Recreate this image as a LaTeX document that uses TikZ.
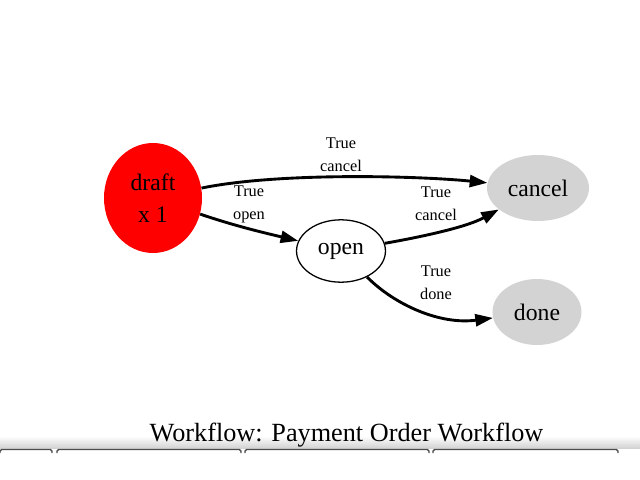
\documentclass[tikz,border=0pt]{standalone}
\usepackage{fontspec}
\setmainfont{Liberation Serif}
\usetikzlibrary{shapes.geometric,arrows.meta}
\definecolor{rojo}{HTML}{FF0000}
\definecolor{grisclaro}{HTML}{D3D3D3}
\tikzset{
  estado/.style={ellipse, inner sep=0pt, font=\fontsize{14.8}{20}\selectfont, align=center},
  flecha/.style={line width=1.8pt, -{Triangle[length=11pt,width=7.5pt]}},
  etiqueta/.style={font=\fontsize{10.2}{14.4}\selectfont, align=center, inner sep=0pt},
  pestana/.style={line width=0.8pt, gray!60!black, rounded corners=1pt}
}
\begin{document}
\begin{tikzpicture}[x=0.625pt, y=-0.625pt]
    \useasboundingbox (0,0) rectangle (640,480);

    % Dibuja los estados
    \node[estado, fill=rojo, minimum width=61.25pt, minimum height=68.75pt] (draft) at (153,198) {draft\\x 1};
    \node[estado, draw, line width=0.8pt, minimum width=55.6pt, minimum height=39pt] (open) at (341,251) {open};
    \node[estado, fill=grisclaro, minimum width=63.75pt, minimum height=41.25pt] (cancel) at (538,188) {cancel};
    \node[estado, fill=grisclaro, minimum width=55.6pt, minimum height=41.25pt] (done) at (537,312) {done};

    % Dibuja las transiciones
    \draw[flecha] (draft) .. controls (280,172) and (420,176) .. (cancel);
    \draw[flecha] (draft) .. controls (235,226) and (265,233) .. (open);
    \draw[flecha] (open) .. controls (415,238) and (465,228) .. (cancel);
    \draw[flecha] (open) .. controls (395,305) and (440,325) .. (done);

    % Etiquetas de las transiciones
    \node[etiqueta] (l1) at (341,155) {True\\cancel};
    \node[etiqueta] (l2) at (249,204) {True\\open};
    \node[etiqueta] (l3) at (436,204) {True\\cancel};
    \node[etiqueta] (l4) at (436,283) {True\\done};

    % Dibuja la franja inferior y las pestanas
    \shade[top color=white, bottom color=gray!35] (0,436) rectangle (640,448);
    \foreach \a/\b in {0/52,57/241,245/429,433/618}
    \draw[pestana] (\a,453) -- (\a,449.5) -- (\b,449.5) -- (\b,453);

    % Titulo
    \node[font=\fontsize{16.4}{19}\selectfont, anchor=base, inner sep=0pt] (titulo) at (346.5,441) {Workflow: Payment Order Workflow};
\end{tikzpicture}
\end{document}
